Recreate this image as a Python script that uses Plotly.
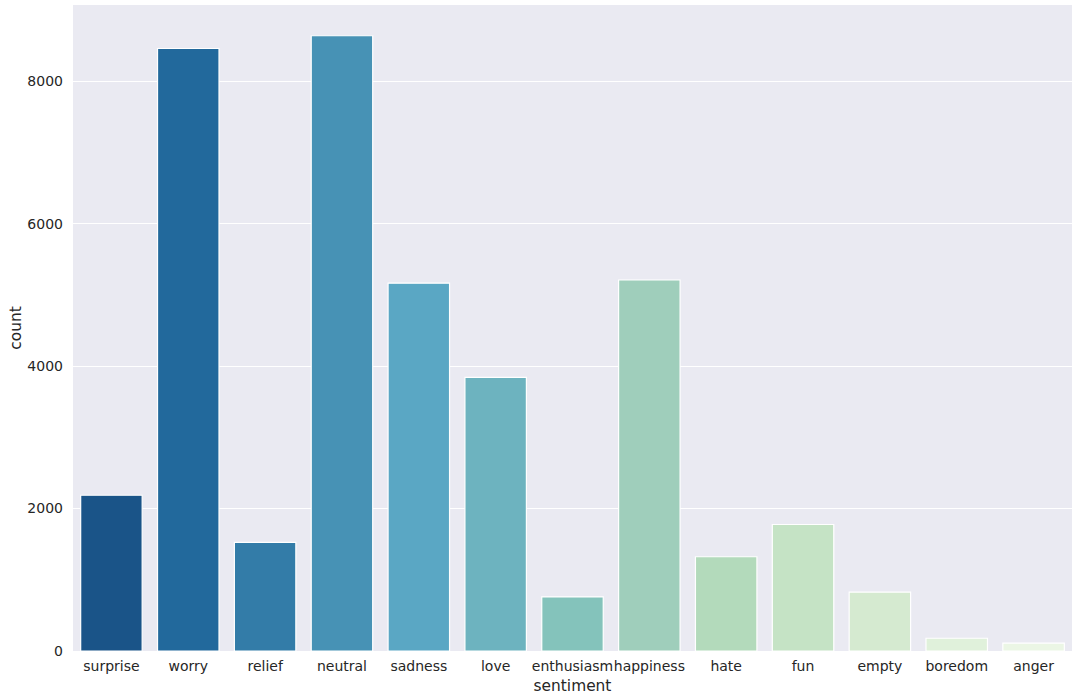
import plotly.graph_objects as go

# sentiment counts (seaborn countplot, GnBu_r palette)
sentiments = ["surprise", "worry", "relief", "neutral", "sadness", "love", "enthusiasm",
              "happiness", "hate", "fun", "empty", "boredom", "anger"]
counts = [2187, 8459, 1526, 8638, 5165, 3842, 759, 5209, 1323, 1776, 827, 179, 110]
colors = ["#1a5488", "#22699c", "#337ca8", "#4792b5", "#5aa7c4", "#6db3bf", "#84c3bb",
          "#9fcebb", "#b3dabb", "#c5e3c5", "#d5ead0", "#e0f1db", "#ebf6e5"]

fig = go.Figure()
fig.add_trace(go.Bar(
    x=sentiments,
    y=counts,
    marker=dict(color=colors, line=dict(color="white", width=1.2)),
    width=0.8,
    showlegend=False,
))

fig.update_layout(
    width=1079, height=700,
    margin=dict(l=73, r=7, t=5, b=49),
    paper_bgcolor="white",
    plot_bgcolor="#eaeaf2",
    font=dict(family="DejaVu Sans", size=14, color="#262626"),
    bargap=0.2,
)
fig.update_xaxes(
    title=dict(text="sentiment", font=dict(size=15.4), standoff=7),
    showgrid=False, ticks="", range=[-0.5, 12.5], tickfont=dict(size=14),
    tickangle=0, automargin=False, ticklabelstandoff=5,
)
fig.update_yaxes(
    title=dict(text="count", font=dict(size=15.4), standoff=1),
    range=[0, 9070], tickvals=[0, 2000, 4000, 6000, 8000],
    gridcolor="white", gridwidth=1.2, zeroline=False, ticks="",
    tickfont=dict(size=14), automargin=False, ticklabelstandoff=9,
)

# drop the default page margin so the figure sits at the window's corner
fig.write_html("out.html", config={"displayModeBar": False},
               post_script="document.body.style.margin='0';")
